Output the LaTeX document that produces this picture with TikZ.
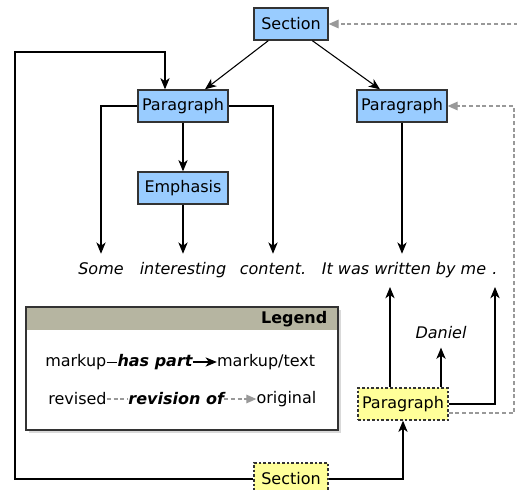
\documentclass[tikz,border=0pt]{standalone}
\usepackage{fontspec}
\setmainfont{DejaVu Sans}
\usetikzlibrary{arrows.meta,shadows,positioning}
\definecolor{markupblue}{HTML}{99CCFF}
\definecolor{reviseyellow}{HTML}{FFFF99}
\definecolor{legendhead}{HTML}{B6B5A1}
\definecolor{boxline}{HTML}{333333}

\begin{document}
\begin{tikzpicture}[x=0.75pt, y=-0.75pt, font=\fontsize{12}{14}\selectfont,
	element/.style={draw=boxline, line width=1pt, fill=markupblue, minimum height=24pt, inner xsep=1pt},
	revised/.style={element, fill=reviseyellow, dash pattern=on 2pt off 1.5pt},
	haspart/.style={line width=0.8pt, -{Stealth[length=8.5pt, width=7pt, inset=2.5pt]}},
	revof/.style={gray!80, line width=0.8pt, dash pattern=on 3pt off 2pt, -{Triangle[length=7.5pt, width=6.5pt]}},
	words/.style={font=\fontsize{12}{14}\selectfont\itshape, inner sep=1pt, text height=9pt, text depth=3pt}]
	\clip (0,0) rectangle (517,489);
	\node[element, minimum width=55.5pt] (sec) at (291,24) {Section};
	\node[element, minimum width=67.5pt] (par1) at (183,106) {Paragraph};
	\node[element, minimum width=67.5pt] (par2) at (402,106) {Paragraph};
	\node[element, minimum width=67.5pt] (emph) at (183,188) {Emphasis};
	\node[revised, minimum width=67.5pt] (par3) at (403,404) {Paragraph};
	\node[revised, minimum width=55.5pt] (sec2) at (291,479) {Section};

	\node[words] (some) at (101,270) {Some};
	\node[words] (interesting) at (183,270) {interesting};
	\node[words] (content) at (273,270) {content.};
	\node[words] (written) at (404,270) {It was written by me};
	\node[words] (dot) at (495,270) {.};
	\node[words] (daniel) at (441,334) {Daniel};
	\coordinate (wr) at (390,287);
	\coordinate (dt) at (495,287);

	\draw[haspart] ([xshift=-17pt]sec.south) -- ([xshift=16.5pt]par1.north);
	\draw[haspart] ([xshift=16pt]sec.south) -- ([xshift=-16.5pt]par2.north);
	\draw[haspart] (par1.west) -| ([yshift=5pt]some.north);
	\draw[haspart] (par1.east) -| ([yshift=5pt]content.north);
	\draw[haspart] (par1) -- (emph);
	\draw[haspart] (emph) -- ([yshift=5pt]interesting.north);
	\draw[haspart] (par2) -- ([yshift=5pt]written.north -| par2);
	\draw[haspart] (par3.north -| wr) -- (wr);
	\draw[haspart] (par3.north -| daniel) -- ([yshift=-3pt]daniel.south);
	\draw[haspart] (par3.east) -| (dt);
	\draw[haspart] (sec2.east) -| (par3.south);
	\coordinate (lc) at (15,52);
	\draw[haspart] (sec2.west) -| (lc) -| ([xshift=-13.5pt]par1.north);

	\coordinate (rr) at (514,106);
	\coordinate (ro) at (518,24);
	\draw[revof] ([yshift=-6.75pt]par3.east) -| (rr) -- (par2.east);
	\draw[revof] (ro) -- (sec.east);

	\draw[fill=white, draw=boxline, line width=1pt, drop shadow={shadow xshift=2pt, shadow yshift=-2pt, opacity=0.3}] (26,307) rectangle (338,430);
	\fill[legendhead] (26.5,307.5) rectangle (337.5,330);
	\draw[boxline, line width=1pt] (26,307) rectangle (338,430);
	\node[anchor=east, font=\fontsize{12}{14}\selectfont\bfseries] (legend) at (332,319) {Legend};

	\node[anchor=west, inner sep=0pt] (markup) at (45,362) {markup};
	\node[right=8pt of markup, inner sep=0pt, font=\fontsize{12}{14}\selectfont\bfseries\itshape] (part) {has part};
	\node[right=18pt of part, inner sep=0pt] (mtext) {markup/text};
	\draw (markup) -- (part);
	\draw[haspart] (part) -- (mtext);
	\node[anchor=west, inner sep=0pt] (rev) at (48,399) {revised};
	\node[right=16pt of rev, inner sep=0pt, font=\fontsize{12}{14}\selectfont\bfseries\itshape] (revision) {revision of};
	\node[right=24pt of revision, inner sep=0pt] (orig) {original};
	\draw[revof, -] (rev) -- (revision);
	\draw[revof] (revision) -- (orig);
\end{tikzpicture}
\end{document}
